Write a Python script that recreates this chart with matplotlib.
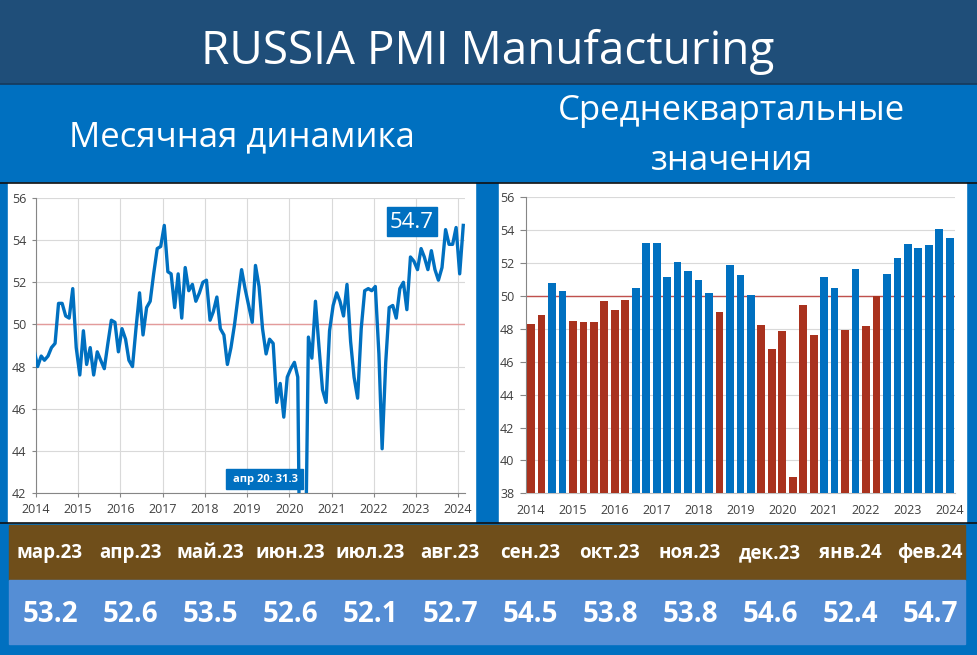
import pandas as pd
import matplotlib
matplotlib.use('Agg')
import matplotlib.pyplot as plt
import matplotlib.dates as mdates
from matplotlib.patches import Rectangle
from datetime import datetime

plt.rcParams['font.family'] = ['Open Sans', 'DejaVu Sans']

# месячные значения PMI (дек.2013 - фев.2024)
pmi_2013 = [48.8]
pmi_2014 = [48.0, 48.5, 48.3, 48.5, 48.9, 49.1, 51.0, 51.0, 50.4, 50.3, 51.7, 48.9]
pmi_2015 = [47.6, 49.7, 48.1, 48.9, 47.6, 48.7, 48.3, 47.9, 49.1, 50.2, 50.1, 48.7]
pmi_2016 = [49.8, 49.3, 48.3, 48.0, 49.8, 51.5, 49.5, 50.8, 51.1, 52.4, 53.6, 53.7]
pmi_2017 = [54.7, 52.5, 52.4, 50.8, 52.4, 50.3, 52.7, 51.6, 51.9, 51.1, 51.5, 52.0]
pmi_2018 = [52.1, 50.2, 50.6, 51.3, 49.8, 49.5, 48.1, 48.9, 50.0, 51.3, 52.6, 51.7]
pmi_2019 = [50.9, 50.1, 52.8, 51.8, 49.8, 48.6, 49.3, 49.1, 46.3, 47.2, 45.6, 47.5]
pmi_2020 = [47.9, 48.2, 47.5, 31.3, 36.2, 49.4, 48.4, 51.1, 48.9, 46.9, 46.3, 49.7]
pmi_2021 = [50.9, 51.5, 51.1, 50.4, 51.9, 49.2, 47.5, 46.5, 49.8, 51.6, 51.7, 51.6]
pmi_2022 = [51.8, 48.6, 44.1, 48.2, 50.8, 50.9, 50.3, 51.7, 52.0, 50.7, 53.2, 53.0]
pmi_2023 = [52.6, 53.6, 53.2, 52.6, 53.5, 52.6, 52.1, 52.7, 54.5, 53.8, 53.8, 54.6]
pmi_2024 = [52.4, 54.7]

# среднеквартальные значения (1кв.2014 - 1кв.2024)
pmi_quarterly = [48.27, 48.83, 50.80, 50.33,
                 48.47, 48.40, 48.43, 49.67,
                 49.13, 49.77, 50.47, 53.23,
                 53.20, 51.17, 52.07, 51.53,
                 50.97, 50.20, 49.00, 51.87,
                 51.27, 50.07, 48.23, 46.77,
                 47.87, 38.97, 49.47, 47.63,
                 51.17, 50.50, 47.93, 51.63,
                 48.17, 49.97, 51.33, 52.30,
                 53.13, 52.90, 53.10, 54.07,
                 53.55]
quarter_years = list(range(2014, 2025))

# таблица за последние 12 месяцев
table_months = ['мар.23', 'апр.23', 'май.23', 'июн.23', 'июл.23', 'авг.23',
                'сен.23', 'окт.23', 'ноя.23', 'дек.23', 'янв.24', 'фев.24']
table_values = [53.2, 52.6, 53.5, 52.6, 52.1, 52.7, 54.5, 53.8, 53.8, 54.6, 52.4, 54.7]

pmi = (pmi_2013 + pmi_2014 + pmi_2015 + pmi_2016 + pmi_2017 + pmi_2018 +
       pmi_2019 + pmi_2020 + pmi_2021 + pmi_2022 + pmi_2023 + pmi_2024)
dates = pd.date_range('2013-12-01', periods=len(pmi), freq='MS') + pd.Timedelta(days=14)

W, H = 977, 655
DARK = '#1F4E79'
BLUE = '#0070C0'
BROWN = '#6F4E1A'
LIGHT = '#558ED5'
RED = '#A9321E'

fig = plt.figure(figsize=(W / 100, H / 100), dpi=100)


def rect(x0, y0, x1, y1):
    # пиксели -> доли фигуры
    return [x0 / W, 1 - y1 / H, (x1 - x0) / W, (y1 - y0) / H]


# фон
bg = fig.add_axes([0, 0, 1, 1], zorder=-5)
bg.set_xlim(0, W)
bg.set_ylim(H, 0)
bg.axis('off')
bg.add_patch(Rectangle((0, 0), W, H, color=BLUE))
bg.add_patch(Rectangle((0, 0), W, 83, color=DARK))
bg.plot([0, W], [83.5, 83.5], color='#163a5c', lw=1.2)
bg.add_patch(Rectangle((8, 183), 467, 339, color='white'))
bg.add_patch(Rectangle((499, 183), 467, 339, color='white'))
bg.plot([0, W], [183, 183], color='#111111', lw=1.2)
bg.plot([0, W], [522.5, 522.5], color='#111111', lw=1.2)
bg.add_patch(Rectangle((9, 525), 956, 55, color=BROWN))
bg.add_patch(Rectangle((9, 580), 956, 64, color=LIGHT))

bg.text(488, 64, 'RUSSIA PMI Manufacturing', color='white', fontsize=33,
        ha='center', va='baseline')
bg.text(242, 146, 'Месячная динамика', color='white', fontsize=25,
        ha='center', va='baseline')
bg.text(732, 120, 'Среднеквартальные', color='white', fontsize=25,
        ha='center', va='baseline')
bg.text(732, 170, 'значения', color='white', fontsize=25,
        ha='center', va='baseline')

for i, (m, v) in enumerate(zip(table_months, table_values)):
    cx = 50 + 80 * i
    bg.text(cx, 553, m, color='white', fontsize=13.5, fontweight='bold',
            ha='center', va='center')
    bg.text(cx, 614, f'{v:.1f}', color='white', fontsize=20, fontweight='bold',
            ha='center', va='center')

# левый график: месячная динамика
ax1 = fig.add_axes(rect(36, 198, 465, 493))
ax1.plot(dates, pmi, color=BLUE, lw=2.4, zorder=3)
ax1.axhline(50, color='#E39B9B', lw=1, zorder=2)
ax1.set_ylim(42, 56)
ax1.set_yticks(range(42, 57, 2))
ax1.set_xlim(datetime(2014, 1, 1), datetime(2024, 3, 1))
ax1.xaxis.set_major_locator(mdates.YearLocator())
ax1.xaxis.set_major_formatter(mdates.DateFormatter('%Y'))
ax1.grid(True, color='#D9D9D9', lw=0.8, zorder=0)
for s in ['top', 'right']:
    ax1.spines[s].set_visible(False)
for s in ['left', 'bottom']:
    ax1.spines[s].set_color('#868686')
ax1.tick_params(colors='#868686', labelcolor='#404040', labelsize=9,
                length=3, pad=4)

# правый график: среднеквартальные значения
ax2 = fig.add_axes(rect(525.5, 197.3, 955, 493.3))
xq = range(len(pmi_quarterly))
bar_colors = [BLUE if v >= 50 else RED for v in pmi_quarterly]
ax2.bar(xq, pmi_quarterly, width=0.74, color=bar_colors, zorder=3)
ax2.axhline(50, color='#C0504D', lw=1, zorder=2)
ax2.set_ylim(38, 56)
ax2.set_yticks(range(38, 57, 2))
ax2.set_xlim(-0.53, len(pmi_quarterly) - 0.5)
ax2.set_xticks(range(0, len(pmi_quarterly), 4))
ax2.set_xticklabels(quarter_years)
ax2.grid(True, axis='y', color='#D9D9D9', lw=0.8, zorder=0)
for s in ['top', 'right']:
    ax2.spines[s].set_visible(False)
ax2.spines['left'].set_color('#868686')
ax2.spines['bottom'].set_color('#BFBFBF')
ax2.tick_params(axis='y', colors='#868686', labelcolor='#404040', labelsize=9,
                length=4, pad=4)
ax2.tick_params(axis='x', labelcolor='#404040', labelsize=9, length=0, pad=8)

# подписи поверх графика
ov = fig.add_axes([0, 0, 1, 1], zorder=10)
ov.set_xlim(0, W)
ov.set_ylim(H, 0)
ov.axis('off')
ov.add_patch(Rectangle((387, 207), 50, 29, color=BLUE))
ov.text(412, 222, f'{pmi[-1]:.1f}', color='white', fontsize=16,
        ha='center', va='center')
ov.add_patch(Rectangle((226, 469), 77, 20, color=BLUE))
ov.text(265, 479.5, 'апр 20: 31.3', color='white', fontsize=8, fontweight='bold',
        ha='center', va='center')

fig.savefig('out.png', dpi=100)
